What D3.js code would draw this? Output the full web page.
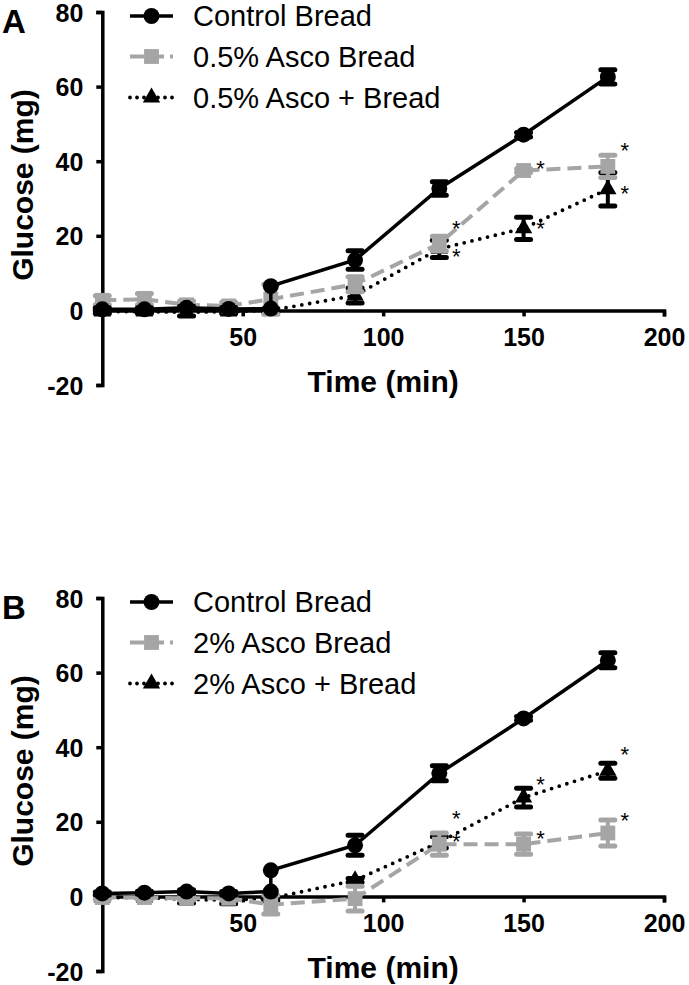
<!DOCTYPE html>
<html><head><meta charset="utf-8">
<script src="https://cdn.jsdelivr.net/npm/d3@7"></script>
<style>body{margin:0;background:#fff}svg{display:block}text{font-family:"Liberation Sans",Arial,sans-serif}</style>
</head><body>
<script>
// ---------- data ----------
const timeCtrl = [0, 15, 30, 45, 60, 60, 90, 120, 150, 180];
const time = [0, 15, 30, 45, 60, 90, 120, 150, 180];
const xTicks = [50, 100, 150, 200];
const yTicks = [-20, 0, 20, 40, 60, 80];
const astTimes = [120, 150, 180];

// Panel A (0.5%)
const ctrlA = [0.3, 0.3, 0.7, 0.4, 0.5, 6.5, 13.5, 32.7, 47.1, 62.6];
const ctrlAErr = [0.4, 0.4, 0.4, 0.4, 0, 0, 2.5, 1.8, 0.6, 1.9];
const greyA = [2.7, 3.0, 1.5, 1.2, 3.0, 7.0, 17.9, 37.5, 38.6];
const greyAErr = [1.2, 1.5, 1.0, 1.0, 4.0, 2.0, 2.0, 0.5, 3.0];
const triA = [-0.3, -0.3, -0.5, -0.3, 0.0, 4.0, 16.5, 22.0, 32.5];
const triAErr = [0.5, 0.5, 1.0, 0.5, 0.5, 2.0, 2.3, 3.0, 4.5];
const astGreyA = [23.3, 39.6, 44.4];
const astTriA = [16.0, 23.3, 32.7];
const legendA = ["Control Bread", "0.5% Asco Bread", "0.5% Asco + Bread"];

// Panel B (2%)
const ctrlB = [0.8, 1.0, 1.3, 0.8, 1.3, 7.0, 13.7, 33.0, 47.7, 63.3];
const ctrlBErr = [0.4, 0.4, 0.5, 0.5, 0, 0, 2.7, 2.0, 0.5, 2.0];
const greyB = [-0.3, -0.3, -0.5, -0.5, -2.2, -0.6, 14.0, 14.0, 17.0];
const greyBErr = [0.5, 0.5, 0.5, 0.5, 2.5, 3.3, 3.0, 2.7, 3.5];
const triB = [-0.3, -0.3, -0.8, -1.0, -0.5, 4.3, 14.5, 26.5, 33.7];
const triBErr = [0.3, 0.3, 1.0, 1.0, 0.5, 0.5, 1.5, 2.5, 2.0];
const astGreyB = [22.3, 17.1, 21.7];
const astTriB = [16.3, 31.6, 39.6];
const legendB = ["Control Bread", "2% Asco Bread", "2% Asco + Bread"];

const panels = [
  {label: "A", dy: 0, ctrl: ctrlA, ctrlErr: ctrlAErr, grey: greyA, greyErr: greyAErr, tri: triA, triErr: triAErr, astGrey: astGreyA, astTri: astTriA, legend: legendA},
  {label: "B", dy: 586, ctrl: ctrlB, ctrlErr: ctrlBErr, grey: greyB, greyErr: greyBErr, tri: triB, triErr: triBErr, astGrey: astGreyB, astTri: astTriB, legend: legendB}
];

// ---------- drawing ----------
const W = 689, H = 985;
const GREY = "#a5a5a5";
const svg = d3.select("body").append("svg").attr("width", W).attr("height", H);

const x = d3.scaleLinear().domain([0, 200]).range([102.3, 664]);
const y = d3.scaleLinear().domain([-20, 80]).range([385, 12]);

const symCircle = d3.symbol().type(d3.symbolCircle).size(200);
const symSquare = d3.symbol().type(d3.symbolSquare).size(220);
const symTri = d3.symbol().type(d3.symbolTriangle).size(130);

panels.forEach(p => {
  const g = svg.append("g").attr("transform", `translate(0,${p.dy})`);

  // Axes
  const yAxis = d3.axisLeft(y).tickValues(yTicks).tickSize(6).tickPadding(13).tickFormat(d => String(d));
  const ya = g.append("g").attr("transform", `translate(${x(0)},0)`).call(yAxis);
  const xAxis = d3.axisBottom(x).tickValues(xTicks).tickSize(6).tickPadding(12).tickFormat(d => String(d));
  const xa = g.append("g").attr("transform", `translate(0,${y(0)})`).call(xAxis);
  [ya, xa].forEach(a => {
    a.select(".domain").attr("stroke", "#000").attr("stroke-width", 3.5);
    a.selectAll(".tick line").attr("stroke", "#000").attr("stroke-width", 3.5);
    a.selectAll(".tick text").attr("fill", "#000").style("font-size", "25px").style("font-weight", "bold")
      .style("font-family", '"Liberation Sans", Arial, sans-serif');
  });
  ya.selectAll(".tick text").attr("dy", "0.36em");
  xa.selectAll(".tick text").attr("dy", "0.72em");

  // Axis titles
  g.append("text").attr("x", x(100)).attr("y", 381).attr("dy", "0.36em").attr("text-anchor", "middle")
    .style("font-size", "30px").style("font-weight", "bold").text("Time (min)");
  g.append("text").attr("transform", "translate(22,185) rotate(-90)").attr("dy", "0.36em").attr("text-anchor", "middle")
    .style("font-size", "30px").style("font-weight", "bold").text("Glucose (mg)");
  g.append("text").attr("x", 14).attr("y", 21).attr("dy", "0.36em").attr("text-anchor", "middle")
    .style("font-size", "33px").style("font-weight", "bold").text(p.label);

  const line = d3.line().x(d => x(d.t)).y(d => y(d.v));

  const series = [
    {t: time, v: p.tri, e: p.triErr, color: "#000", dash: "0,8", sym: symTri, w: 3.8, cap: "round"},
    {t: time, v: p.grey, e: p.greyErr, color: GREY, dash: "14,7", sym: symSquare, w: 4, cap: "butt"},
    {t: timeCtrl, v: p.ctrl, e: p.ctrlErr, color: "#000", dash: null, sym: symCircle, w: 3.5, cap: "butt"}
  ];

  series.forEach(s => {
    const pts = s.t.map((t, i) => ({t, v: s.v[i], e: s.e[i]}));
    const sg = g.append("g");
    // error bars
    pts.filter(d => d.e > 0.3).forEach(d => {
      sg.append("line").attr("x1", x(d.t)).attr("x2", x(d.t)).attr("y1", y(d.v - d.e)).attr("y2", y(d.v + d.e))
        .attr("stroke", s.color).attr("stroke-width", 4);
      [d.v - d.e, d.v + d.e].forEach(v => {
        sg.append("line").attr("x1", x(d.t) - 7).attr("x2", x(d.t) + 7).attr("y1", y(v)).attr("y2", y(v))
          .attr("stroke", s.color).attr("stroke-width", 5).attr("stroke-linecap", "round");
      });
    });
    sg.append("path").datum(pts).attr("d", line).attr("fill", "none").attr("stroke", s.color)
      .attr("stroke-width", s.w).attr("stroke-dasharray", s.dash).attr("stroke-linecap", s.cap);
    sg.selectAll("path.m").data(pts).join("path").attr("class", "m")
      .attr("transform", d => `translate(${x(d.t)},${y(d.v)})`).attr("d", s.sym).attr("fill", s.color);
  });

  // significance asterisks
  [p.astGrey, p.astTri].forEach(arr => {
    g.selectAll(null).data(astTimes.map((t, i) => ({t, v: arr[i]}))).join("text")
      .attr("x", d => x(d.t) + 17).attr("y", d => y(d.v) + 13).attr("text-anchor", "middle")
      .style("font-size", "22px").text("*");
  });

  // legend
  const rows = [16, 56.5, 97.5];
  const legSeries = [series[2], series[1], series[0]];
  rows.forEach((ry, i) => {
    const s = legSeries[i];
    const lg = g.append("g");
    lg.append("line").attr("x1", 130).attr("x2", 173).attr("y1", ry).attr("y2", ry)
      .attr("stroke", s.color).attr("stroke-width", s.w).attr("stroke-dasharray", i === 1 ? "14,6" : (i === 2 ? "0,7" : null))
      .attr("stroke-linecap", s.cap);
    lg.append("path").attr("transform", `translate(151.5,${ry})`).attr("d", s.sym).attr("fill", s.color);
    lg.append("text").attr("x", 193).attr("y", ry).attr("dy", "0.36em").style("font-size", "29px").text(p.legend[i]);
  });
});
</script>
</body></html>
